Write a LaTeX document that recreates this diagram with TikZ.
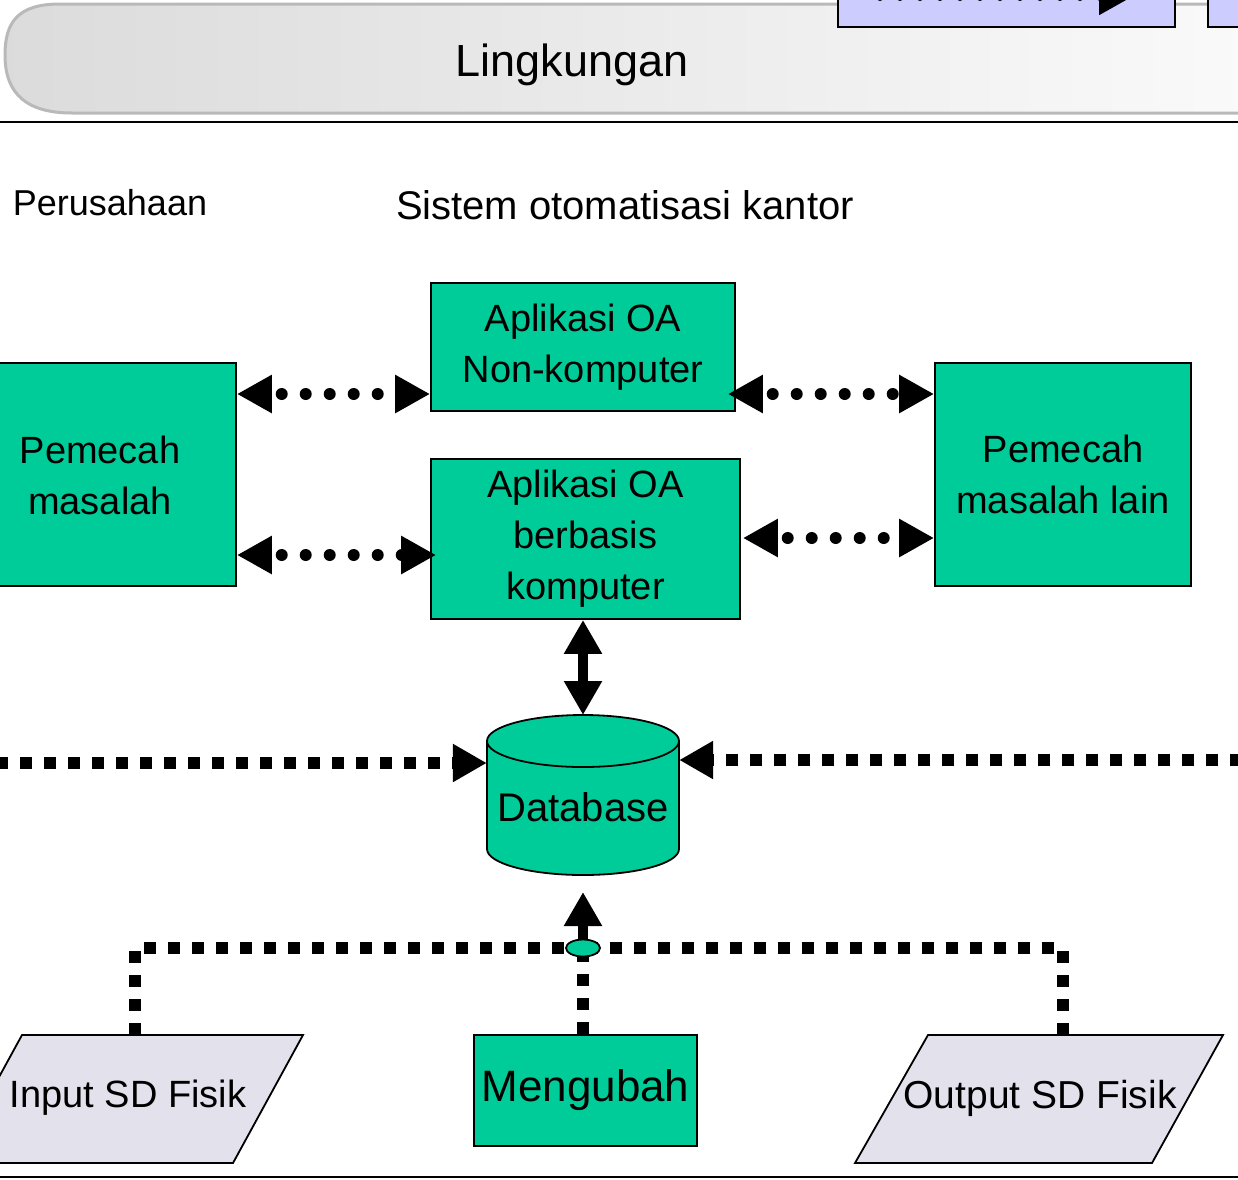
\documentclass[tikz,border=0pt]{standalone}
\usepackage{fontspec}
\setmainfont{Liberation Sans}
\usetikzlibrary{arrows.meta,shapes.geometric,calc}
\definecolor{oagreen}{RGB}{0,204,153}
\definecolor{paral}{RGB}{227,225,236}
\definecolor{lav}{RGB}{204,204,255}
\begin{document}
\begin{tikzpicture}[x=1pt,y=-1pt,
  box/.style={draw=black, line width=1.8pt, fill=oagreen, inner sep=0pt, align=center,
              font=\fontsize{38pt}{51pt}\selectfont},
  lbl/.style={inner sep=0pt, align=center, font=\fontsize{38pt}{51pt}\selectfont},
  rdots/.style={line width=12pt, dash pattern=on 0pt off 24pt, dash phase=12pt, line cap=round,
                {Triangle[length=35pt,width=36pt]}-{Triangle[length=35pt,width=36pt]}},
  sdots/.style={line width=12pt, dash pattern=on 12pt off 12pt},
  solidarrow/.style={line width=10pt}
]
\useasboundingbox (0,0) rectangle (1238,1179);
\fill[white] (0,0) rectangle (1238,1179);

% header band
\shade[left color=gray!28, right color=gray!4, draw=gray!55, line width=3pt]
  (1250,4) -- (60,4) .. controls (18,4) and (5,22) .. (5,55)
  .. controls (5,95) and (28,113) .. (72,113) -- (1250,113);
\node[lbl, font=\fontsize{45pt}{50pt}\selectfont] (ling) at (572,65) {Lingkungan};

% partial top-right boxes
\filldraw[fill=lav, draw=black, line width=2pt] (838,-10) rectangle (1175,27);
\filldraw[fill=lav, draw=black, line width=2pt] (1208,-10) rectangle (1250,27);
\coordinate (tl1) at (880,-3);
\coordinate (tl2) at (1132,-3);
\draw[line width=8pt, dash pattern=on 0pt off 20pt, line cap=round,
      -{Triangle[length=33pt,width=34pt]}] (tl1) -- (tl2);

% separator lines
\draw[line width=2pt] (0,122) -- (1238,122);
\draw[line width=2pt] (0,1177) -- (1238,1177);

% headings
\node[lbl, font=\fontsize{36pt}{40pt}\selectfont] (perus) at (110,203) {Perusahaan};
\node[lbl, font=\fontsize{40pt}{44pt}\selectfont] (sok) at (625,205) {Sistem otomatisasi kantor};

% boxes
\node[box, minimum width=272pt, minimum height=223pt] (left) at (100,474.5) {};
\node[lbl] at (100,475) {Pemecah\\masalah};
\node[box, minimum width=304pt, minimum height=128pt] (nonk) at (583,347) {Aplikasi OA\\Non-komputer};
\node[box, minimum width=309pt, minimum height=160pt] (berb) at (585.5,539) {Aplikasi OA\\berbasis\\komputer};
\node[box, minimum width=256pt, minimum height=223pt] (right) at (1063,474.5) {Pemecah\\masalah lain};

% dotted double arrows
\coordinate (r1) at (0,394);
\coordinate (r2) at (0,555);
\coordinate (r3) at (0,394);
\coordinate (r4) at (0,538);
\draw[rdots] (left.east |- r1) -- (nonk.west |- r1);
\draw[rdots] (left.east |- r2) -- ([xshift=6pt]berb.west |- r2);
\draw[rdots] ([xshift=-8pt]nonk.east |- r3) -- (right.west |- r3);
\draw[rdots] ([xshift=2pt]berb.east |- r4) -- (right.west |- r4);

% database cylinder
\node[inner sep=0pt, minimum width=192pt, minimum height=160pt] (db) at (583,795) {};
\filldraw[fill=oagreen, draw=black, line width=1.8pt] (583,849) ellipse [x radius=96pt, y radius=26pt];
\fill[oagreen] (487,741) rectangle (679,849);
\draw[line width=1.8pt] (487,741) -- (487,849);
\draw[line width=1.8pt] (679,741) -- (679,849);
\filldraw[fill=oagreen, draw=black, line width=1.8pt] (583,741) ellipse [x radius=96pt, y radius=26pt];
\node[lbl, font=\fontsize{40pt}{44pt}\selectfont] (dbtext) at (583,807) {Database};

% berbasis <-> database
\coordinate (dbtop) at (583,715);
\draw[solidarrow, {Triangle[length=34pt,width=36pt]}-{Triangle[length=34pt,width=36pt]}]
  (berb.south -| dbtop) -- (dbtop);

% square dotted lines into database
\coordinate (lstart) at (-4,763);
\coordinate (rstart) at (1242,760);
\draw[sdots, -{Triangle[length=34pt,width=36pt]}] (lstart) -- (db.west |- lstart);
\draw[sdots, -{Triangle[length=34pt,width=36pt]}] (rstart) -- (db.east |- rstart);

% bottom shapes
\filldraw[fill=paral, draw=black, line width=1.8pt]
  (22,1035) -- (303,1035) -- (233,1163) -- (-48,1163) -- cycle;
\node[lbl, font=\fontsize{38pt}{44pt}\selectfont] (inp) at (128,1098) {Input SD Fisik};
\filldraw[fill=paral, draw=black, line width=1.8pt]
  (928,1035) -- (1223,1035) -- (1152,1163) -- (855,1163) -- cycle;
\node[lbl, font=\fontsize{39pt}{44pt}\selectfont] (outp) at (1040,1098) {Output SD Fisik};
\node[box, minimum width=223pt, minimum height=111pt, font=\fontsize{44pt}{48pt}\selectfont]
  (meng) at (585.5,1090.5) {Mengubah};

% junction and bottom connectors
\coordinate (junctpos) at (583,948);
\coordinate (inptop) at (135,1035);
\coordinate (outtop) at (1063,1035);
\coordinate (dbbot) at (583,892);
\draw[sdots] (inptop) |- (junctpos);
\draw[sdots] (outtop) |- (junctpos);
\draw[sdots] (meng.north -| junctpos) -- (junctpos);
\draw[solidarrow, -{Triangle[length=34pt,width=36pt]}] (junctpos) -- (dbbot);
\node[ellipse, draw=black, fill=oagreen, line width=1.8pt, minimum width=34pt,
      minimum height=17pt, inner sep=0pt] (junc) at (junctpos) {};
\end{tikzpicture}
\end{document}
